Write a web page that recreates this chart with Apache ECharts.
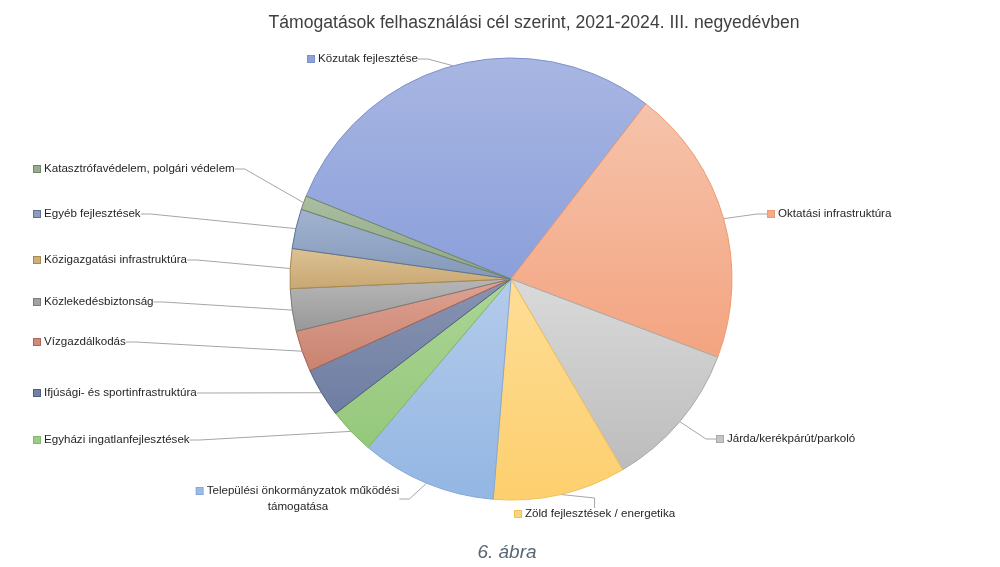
<!DOCTYPE html>
<html>
<head>
<meta charset="utf-8">
<script src="https://cdn.jsdelivr.net/npm/echarts@6/dist/echarts.min.js"></script>
<style>
html,body{margin:0;padding:0;background:#fff;}
#chart{width:1000px;height:567px;}
</style>
</head>
<body>
<div id="chart"></div>
<script>
const categories = [
  'Közutak fejlesztése',
  'Oktatási infrastruktúra',
  'Járda/kerékpárút/parkoló',
  'Zöld fejlesztések / energetika',
  'Települési önkormányzatok működési\ntámogatása',
  'Egyházi ingatlanfejlesztések',
  'Ifjúsági- és sportinfrastruktúra',
  'Vízgazdálkodás',
  'Közlekedésbiztonság',
  'Közigazgatási infrastruktúra',
  'Egyéb fejlesztések',
  'Katasztrófavédelem, polgári védelem'
];
const values = [29.3, 20.3, 10.8, 9.7, 9.9, 3.4, 3.6, 3.0, 3.1, 2.9, 2.9, 1.0];

const titleText = 'Támogatások felhasználási cél szerint, 2021-2024. III. negyedévben';
const captionText = '6. ábra';

// styles (top, bottom, border)
const colorsTop    = ['#a8b6e2','#f6c3ab','#dadada','#fedd96','#b4cbeb','#abd595','#8893b0','#dea292','#b6b6b6','#ddc294','#a1b3d0','#abbea1'];
const colorsBottom = ['#8b9fdb','#f3a480','#bcbcbc','#fdcf6e','#93b6e3','#95c87b','#6e7ea3','#c98370','#989898','#c8a772','#8498b9','#8ea584'];
const borderColors = ['#7d92cc','#ef9a6e','#aaaaaa','#f2c25a','#86a8d6','#82b867','#4f5f80','#a86656','#7c7c7c','#a88a50','#5f7397','#6f8766'];
const markerColors = ['#8ea2da','#f4ab8b','#c4c4c4','#fdd47b','#9cbce5','#9dcc86','#7481a6','#d08c7a','#a2a2a2','#cfae7b','#8a9ebf','#98ad8e'];

// label anchor positions (x, y, align)
const labelPos = [
  [308, 59, 'left'],
  [768, 214, 'left'],
  [717, 439, 'left'],
  [515, 514, 'left'],
  [298, 499, 'center'],
  [34, 440, 'left'],
  [34, 393, 'left'],
  [34, 342, 'left'],
  [34, 302, 'left'],
  [34, 260, 'left'],
  [34, 214, 'left'],
  [34, 169, 'left']
];

const font = '"Liberation Sans", Arial, sans-serif';

const data = categories.map((name, i) => {
  const multi = name.indexOf('\n') >= 0;
  const parts = name.split('\n');
  const fmt = multi
    ? '{m|}{g|}{t|' + parts[0] + '}\n{t|' + parts[1] + '}'
    : '{m|}{g|}{t|' + name + '}';
  return {
    name: name,
    value: values[i],
    itemStyle: {
      color: {
        type: 'linear', x: 0, y: 0, x2: 0, y2: 1,
        colorStops: [{offset: 0, color: colorsTop[i]}, {offset: 1, color: colorsBottom[i]}]
      },
      borderColor: borderColors[i],
      borderWidth: 1
    },
    label: {
      formatter: fmt,
      rich: {
        m: {width: 6, height: 6, backgroundColor: markerColors[i], borderColor: borderColors[i], borderWidth: 1},
        g: {width: 4, height: 6},
        t: {fontSize: 11.6, color: '#262626', fontFamily: font, lineHeight: 16}
      }
    }
  };
});

const chart = echarts.init(document.getElementById('chart'), null, {renderer: 'canvas'});
chart.setOption({
  backgroundColor: '#ffffff',
  animation: false,
  title: [
    {
      text: titleText,
      left: 529, top: 9, textAlign: 'center',
      textStyle: {fontFamily: font, fontSize: 17.6, fontWeight: 'normal', color: '#404040'}
    },
    {
      text: captionText,
      left: 502, top: 538, textAlign: 'center',
      textStyle: {fontFamily: font, fontSize: 19, fontStyle: 'italic', fontWeight: 'normal', color: '#5a6673'}
    }
  ],
  series: [{
    type: 'pie',
    center: [511, 279],
    radius: 221,
    startAngle: 158,
    clockwise: true,
    avoidLabelOverlap: false,
    label: {show: true, position: 'outside'},
    labelLine: {show: true, length: 10, length2: 10, lineStyle: {color: '#a6a6a6', width: 1}},
    labelLayout: function (params) {
      const p = labelPos[params.dataIndex];
      return {x: p[0], y: p[1], align: p[2], verticalAlign: 'middle'};
    },
    emphasis: {disabled: true},
    data: data
  }]
});
</script>
</body>
</html>
